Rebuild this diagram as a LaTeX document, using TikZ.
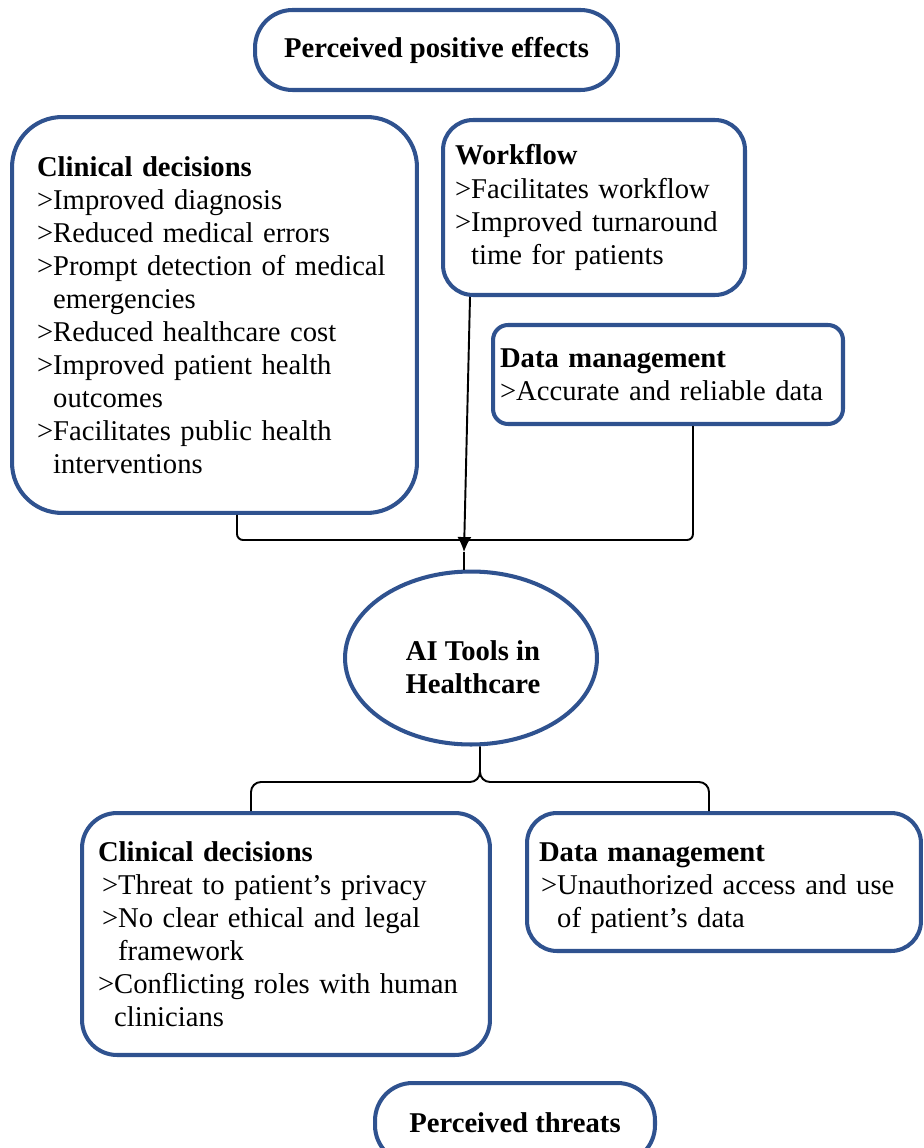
\documentclass[tikz,border=0pt]{standalone}
\usepackage{fontspec}
\setmainfont{Liberation Serif}
\usepackage{tikz}
\usetikzlibrary{arrows.meta,shapes.geometric,calc}
\definecolor{boxblue}{RGB}{47,82,143}
\tikzstyle{every node}=[font=\fontsize{16.3}{18.8}\selectfont]
\tikzstyle{group}=[rectangle,
                   draw=boxblue,
                   line width=2.3pt,
                   align=left,
                   inner ysep=0pt
                   ]
\tikzstyle{title}=[rectangle,
                   draw=boxblue,
                   line width=2.3pt,
                   rounded corners=0.75cm,
                   minimum height=1.6cm,
                   font=\fontsize{16.3}{18.8}\selectfont\bfseries
                   ]
\tikzstyle{link}=[line width=1.1pt,draw=black]

\begin{document}
\begin{tikzpicture}[x=0.02cm,y=-0.02cm,>={Latex[length=8.5pt,width=8pt]}]
\useasboundingbox (0,0) rectangle (923,1148);
\clip (0,0) rectangle (923,1148);
\node (pos_title) [title,minimum width=7.26cm] at (436.5,50) {Perceived positive effects};
\node (clin_pos) [group,rounded corners=1cm,minimum width=8.1cm,minimum height=7.92cm,
  text width=7.1cm,inner xsep=0.5cm] at (214.5,315)
  {\textbf{Clinical decisions}\\
   >Improved diagnosis\\
   >Reduced medical errors\\
   >Prompt detection of medical\\
   \phantom{>}emergencies\\
   >Reduced healthcare cost\\
   >Improved patient health\\
   \phantom{>}outcomes\\
   >Facilitates public health\\
   \phantom{>}interventions};
\node (flow) [group,rounded corners=0.6cm,minimum width=6.04cm,minimum height=3.5cm,
  text width=5.56cm,inner xsep=0.24cm] at (594,207.5)
  {\textbf{Workflow}\\
   >Facilitates workflow\\
   >Improved turnaround\\
   \phantom{>}time for patients};
\node (data_pos) [group,rounded corners=0.3cm,minimum width=7cm,minimum height=1.98cm,
  text width=6.72cm,inner xsep=0.14cm] at (668,374.5)
  {\textbf{Data management}\\
   >Accurate and reliable data};
\node (ai) [ellipse,draw=boxblue,line width=2.3pt,inner sep=0pt,minimum width=5.04cm,
  minimum height=3.46cm] at (471,658) {};
\node (ai_text) [align=center,font=\fontsize{16.3}{18.8}\selectfont\bfseries]
  at (473,667) {AI Tools in\\Healthcare};
\node (clin_neg) [group,rounded corners=0.7cm,minimum width=8.16cm,minimum height=4.84cm,
  text width=7.52cm,inner xsep=0.32cm] at (286,934)
  {\textbf{Clinical decisions}\\
   \hspace{0.08cm}>Threat to patient’s privacy\\
   \hspace{0.08cm}>No clear ethical and legal\\
   \hspace{0.08cm}\phantom{>}framework\\
   >Conflicting roles with human\\
   \phantom{>}clinicians};
\node (data_neg) [group,rounded corners=0.6cm,minimum width=7.88cm,minimum height=2.76cm,
  text width=7.4cm,inner xsep=0.24cm] at (724,882)
  {\rule{0pt}{0.64cm}\textbf{Data management}\\
   \hspace{0.04cm}>Unauthorized access and use\\
   \hspace{0.04cm}\phantom{>}of patient’s data};
\node (neg_title) [title,minimum width=5.6cm] at (515,1123) {Perceived threats};
% joining lines above and below the centre
\coordinate (top_l) at (237,540);
\coordinate (top_r) at (693,540);
\coordinate (tip) at (464,552);
\coordinate (bot_l) at (251,782);
\coordinate (bot_m) at (480,782);
\coordinate (bot_r) at (709,782);
\draw[link,rounded corners=0.12cm] (clin_pos.south -| top_l) -- (top_l) -- (top_r) -- (top_r |- data_pos.south);
\draw[link,->] ($(flow.south west)+(29,0)$) -- (tip);
\draw[link] (tip) -- (tip |- ai.north);
\draw[link,rounded corners=0.2cm] (clin_neg.north -| bot_l) -- (bot_l) -- (bot_m) -- (bot_m |- ai.south);
\draw[link,rounded corners=0.2cm] (data_neg.north -| bot_r) -- (bot_r) -- (bot_m) -- (bot_m |- ai.south);
\end{tikzpicture}
\end{document}
